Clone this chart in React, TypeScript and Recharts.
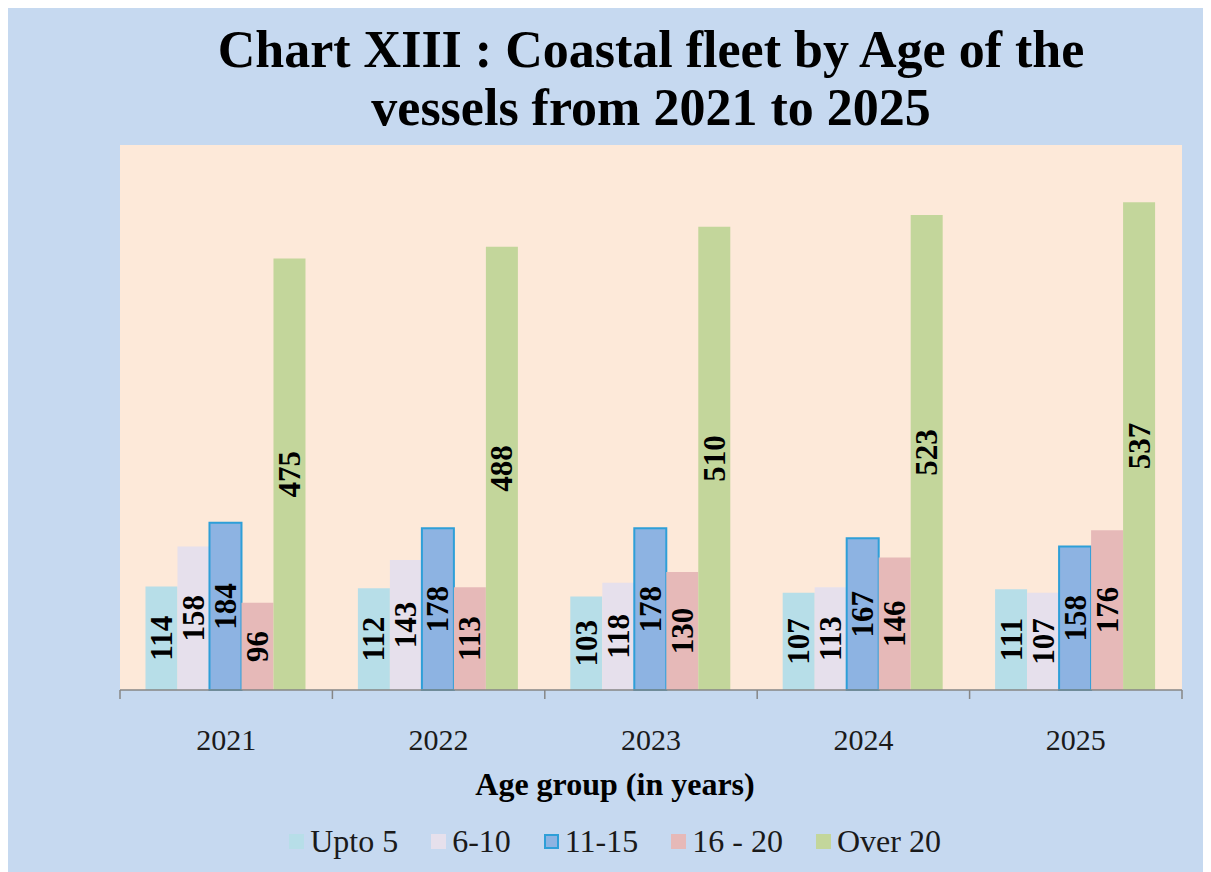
import React from 'react';
import { BarChart, Bar, XAxis, YAxis, CartesianGrid, LabelList, Legend } from 'recharts';

const categories = ['2021', '2022', '2023', '2024', '2025'];
const upto5 = [114, 112, 103, 107, 111];
const age6to10 = [158, 143, 118, 113, 107];
const age11to15 = [184, 178, 178, 167, 158];
const age16to20 = [96, 113, 130, 146, 176];
const over20 = [475, 488, 510, 523, 537];

const seriesNames = ['Upto 5', '6-10', '11-15', '16 - 20', 'Over 20'];
const seriesKeys = ['upto5', 'a6', 'a11', 'a16', 'over20'];
const seriesValues = [upto5, age6to10, age11to15, age16to20, over20];
const seriesFill = ['#b7dee8', '#e6e0ec', '#8db3e2', '#e6b9b8', '#c3d69b'];
const seriesStroke = ['none', 'none', '#2e9fd8', 'none', 'none'];

const data = categories.map((c, i) => {
  const row: any = { year: c };
  seriesKeys.forEach((k, j) => {
    row[k] = seriesValues[j][i];
  });
  return row;
});

const FONT = '"Liberation Serif", "Times New Roman", serif';
const W = 1203;
const H = 864;

const renderLabel = (props: any) => {
  const { x, y, width, height, value } = props;
  const cx = Number(x) + Number(width) / 2;
  const cy = Number(y) + Number(height) / 2;
  return (
    <text
      x={cx}
      y={cy}
      transform={`rotate(-90, ${cx}, ${cy})`}
      textAnchor="middle"
      dominantBaseline="central"
      fontFamily={FONT}
      fontWeight="bold"
      fontSize={31}
      fill="#000"
    >
      {value}
    </text>
  );
};

const CategoryTick = (props: any) => {
  const { x, y, payload, index, visibleTicksCount } = props;
  const half = payload && payload.offset ? payload.offset : 0;
  const last = index === (visibleTicksCount ?? categories.length) - 1;
  return (
    <g>
      <line x1={x - half} x2={x - half} y1={y} y2={y + 9} stroke="#868686" strokeWidth={1.5} />
      {last && <line x1={x + half} x2={x + half} y1={y} y2={y + 9} stroke="#868686" strokeWidth={1.5} />}
      <text x={x} y={y + 49} textAnchor="middle" dominantBaseline="central" fontFamily={FONT} fontSize={30} fill="#1a1a1a">
        {payload.value}
      </text>
    </g>
  );
};

const AxisTitle = (props: any) => {
  const vb = props.viewBox || {};
  const cx = vb.x + vb.width / 2 - 36;
  return (
    <text x={cx} y={vb.y + 94} textAnchor="middle" dominantBaseline="central" fontFamily={FONT} fontWeight="bold" fontSize={32} fill="#000">
      Age group (in years)
    </text>
  );
};

const renderLegend = () => (
  <div style={{ display: 'flex', justifyContent: 'center', alignItems: 'center', fontFamily: FONT, fontSize: 32, color: '#1a1a1a', paddingRight: 72 }}>
    {seriesNames.map((n, i) => (
      <div key={n} style={{ display: 'flex', alignItems: 'center', marginRight: i < seriesNames.length - 1 ? 33 : 0 }}>
        <span
          style={{
            display: 'inline-block',
            width: 15,
            height: 15,
            boxSizing: 'border-box',
            background: seriesFill[i],
            border: seriesStroke[i] !== 'none' ? `2px solid ${seriesStroke[i]}` : 'none',
            marginRight: 6,
          }}
        />
        <span>{n}</span>
      </div>
    ))}
  </div>
);

export default function App() {
  return (
    <div style={{ position: 'relative', width: W, height: H, background: '#c6d9f0' }}>
      <div
        style={{
          position: 'absolute',
          left: 0,
          top: 13,
          width: 1286,
          textAlign: 'center',
          fontFamily: FONT,
          fontWeight: 'bold',
          fontSize: 52,
          lineHeight: '58px',
          color: '#000',
          zIndex: 2,
        }}
      >
        Chart XIII : Coastal fleet by Age of the
        <br />
        vessels from 2021 to 2025
      </div>
      <BarChart
        width={W}
        height={H}
        data={data}
        margin={{ top: 137, right: 29, left: 112, bottom: 9 }}
        barCategoryGap="12%"
        barGap={0}
      >
        <CartesianGrid fill="#fde9d9" stroke="none" horizontal={false} vertical={false} />
        <YAxis hide domain={[0, 600]} />
        <XAxis
          dataKey="year"
          height={133}
          tickLine={false}
          tickSize={0}
          tickMargin={0}
          axisLine={{ stroke: '#868686', strokeWidth: 1.5 }}
          tick={<CategoryTick />}
          interval={0}
          label={<AxisTitle />}
        />
        <Legend verticalAlign="bottom" height={40} content={renderLegend} />
        {seriesKeys.map((k, i) => (
          <Bar
            key={k}
            dataKey={k}
            name={seriesNames[i]}
            fill={seriesFill[i]}
            stroke={seriesStroke[i]}
            strokeWidth={seriesStroke[i] !== 'none' ? 2 : 0}
            isAnimationActive={false}
          >
            <LabelList dataKey={k} content={renderLabel} />
          </Bar>
        ))}
      </BarChart>
    </div>
  );
}
